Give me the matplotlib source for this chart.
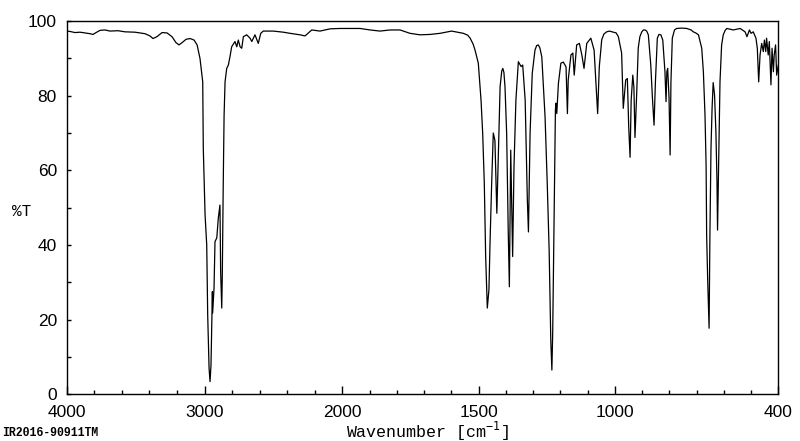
import numpy as np
import matplotlib
matplotlib.use("Agg")
import matplotlib.pyplot as plt
from matplotlib.ticker import FixedLocator, NullFormatter

# Spectrum (wavenumber in cm-1, transmittance in %)
wavenumber = [
    4000, 3976, 3940, 3903, 3867, 3831, 3809, 3787, 3758, 3722, 3686, 3628, 3577, 3504,
    3432, 3396, 3374, 3345, 3308, 3272, 3236, 3207, 3185, 3163, 3134, 3105, 3076, 3054,
    3033, 3013, 3009, 2996, 2984, 2977, 2967, 2960, 2953, 2943, 2941, 2931, 2924, 2911,
    2900, 2888, 2883, 2875, 2871, 2864, 2858, 2851, 2839, 2827, 2815, 2803, 2779, 2766,
    2755, 2742, 2730, 2718, 2694, 2670, 2657, 2634, 2610, 2592, 2573, 2501, 2428, 2380,
    2307, 2271, 2222, 2162, 2089, 2017,
    1935, 1898, 1862, 1825, 1788, 1752, 1715, 1678, 1641, 1599, 1556, 1540, 1531, 1520,
    1513, 1501, 1491, 1485, 1479, 1474, 1468, 1462, 1458, 1452, 1446, 1440, 1433, 1427,
    1421, 1415, 1411, 1407, 1403, 1397, 1391, 1387, 1382, 1375, 1370, 1363, 1354, 1344,
    1338, 1329, 1321, 1317, 1311, 1303, 1293, 1287, 1281, 1275, 1268, 1256, 1248, 1241,
    1235, 1231, 1228, 1222, 1218, 1216, 1213, 1207, 1198, 1189, 1179, 1174, 1171, 1161,
    1154, 1149, 1140, 1130, 1121, 1113, 1103, 1088, 1076, 1069, 1063, 1057, 1048, 1040,
    1030, 1020, 1005, 995, 987, 975, 969, 960, 954, 949, 944, 940, 934, 930,
    926, 920, 914, 908, 901, 895, 889, 883, 877, 868, 862, 856, 851, 844,
    838, 831, 824, 816, 812, 809, 806, 801, 797, 794, 789, 781, 773, 755,
    736, 720, 712, 703, 693, 681, 675, 669, 665, 663, 659, 654, 651, 647,
    643, 639, 634, 629, 625, 623, 618, 614, 608, 602, 595, 589, 565, 540,
    522, 515, 506, 500, 492, 482, 477, 472, 467, 461, 455, 451, 446, 443,
    437, 433, 427, 423, 418, 415, 410, 406, 400,
]
transmittance = [
    97.3, 97.2, 96.9, 97.0, 96.8, 96.6, 96.4, 96.9, 97.5, 97.6, 97.3, 97.4, 97.1, 97.0,
    96.6, 96.0, 95.3, 95.8, 96.9, 96.8, 95.8, 94.2, 93.6, 94.2, 95.1, 95.3, 94.9, 93.6,
    90.0, 83.7, 66.0, 48.0, 40.0, 21.3, 7.0, 3.4, 7.8, 27.5, 21.8, 28.5, 40.9, 41.9,
    47.2, 50.7, 32.8, 23.1, 32.0, 57.0, 74.8, 83.7, 87.3, 88.2, 90.5, 93.1, 94.5, 93.1,
    94.9, 93.1, 92.7, 95.8, 96.3, 95.4, 94.5, 96.3, 94.0, 96.7, 97.3, 97.3, 97.0, 96.7,
    96.3, 96.0, 97.6, 97.3, 97.9, 98.0,
    98.0, 97.6, 97.3, 97.6, 97.6, 96.7, 96.3, 96.4, 96.7, 97.3, 96.7, 96.2, 95.4, 93.8,
    92.2, 88.7, 78.8, 70.0, 56.5, 36.9, 23.1, 28.0, 40.5, 56.5, 70.0, 68.0, 48.5, 65.4,
    82.4, 86.6, 87.3, 86.2, 82.3, 70.0, 43.1, 28.8, 65.4, 36.9, 61.0, 78.8, 89.1, 87.8,
    88.2, 78.8, 52.0, 43.5, 70.0, 86.0, 92.2, 93.4, 93.6, 92.8, 90.4, 74.3, 56.5, 38.6,
    14.5, 6.5, 16.4, 52.0, 76.2, 78.0, 75.2, 83.3, 88.7, 89.0, 87.7, 75.2, 84.2, 90.9,
    91.4, 85.5, 93.6, 94.0, 90.9, 87.3, 94.0, 95.4, 92.2, 83.3, 75.2, 87.7, 95.0, 96.5,
    97.1, 97.3, 97.0, 96.8, 95.8, 91.4, 76.6, 84.2, 84.6, 71.7, 63.5, 78.8, 85.5, 82.3,
    68.8, 80.0, 92.8, 95.8, 97.1, 97.6, 97.6, 97.3, 96.3, 88.2, 79.4, 72.1, 83.7, 95.4,
    96.4, 96.3, 94.9, 86.4, 78.4, 86.4, 87.3, 79.4, 64.1, 83.7, 95.4, 97.6, 98.0, 98.1,
    98.0, 97.6, 97.1, 96.8, 96.3, 92.7, 86.4, 74.8, 61.4, 42.7, 30.2, 17.7, 42.7, 66.0,
    76.7, 83.5, 80.2, 70.3, 57.0, 44.0, 66.0, 83.7, 93.6, 96.3, 97.5, 98.0, 97.6, 98.0,
    97.1, 95.8, 97.6, 96.7, 97.1, 95.4, 92.7, 83.7, 90.9, 94.0, 91.8, 94.9, 91.8, 95.4,
    90.9, 94.5, 82.9, 92.7, 86.4, 90.9, 93.6, 85.5, 88.2,
]

x_major = [4000, 3000, 2000, 1500, 1000, 400]
x_major_labels = ["4000", "3000", "2000", "1500", "1000", "400"]
x_minor = [3800, 3600, 3400, 3200, 2800, 2600, 2400, 2200,
           1900, 1800, 1700, 1600, 1400, 1300, 1200, 1100,
           900, 800, 700, 600, 500]
y_major = [0, 20, 40, 60, 80, 100]
y_minor = [10, 30, 50, 70, 90]

R = 1.977  # scale below 2000 cm-1 is expanded relative to above


def fwd(w):
    w = np.asarray(w, dtype=float)
    return np.where(w >= 2000, w, 2000 - R * (2000 - w))


def inv(u):
    u = np.asarray(u, dtype=float)
    return np.where(u >= 2000, u, 2000 - (2000 - u) / R)


fig = plt.figure(figsize=(8.0, 4.41), dpi=100)
ax = fig.add_axes([66.7 / 800, 1 - 394.3 / 441, (778.3 - 66.7) / 800, (394.3 - 21) / 441])
ax.set_xscale("function", functions=(fwd, inv))
ax.plot(wavenumber, transmittance, color="black", linewidth=0.9)
ax.set_xlim(4000, 400)
ax.set_ylim(0, 100)

ax.xaxis.set_major_locator(FixedLocator(x_major))
ax.xaxis.set_minor_locator(FixedLocator(x_minor))
ax.set_xticklabels(x_major_labels)
ax.xaxis.set_minor_formatter(NullFormatter())
ax.yaxis.set_major_locator(FixedLocator(y_major))
ax.yaxis.set_minor_locator(FixedLocator(y_minor))

tick_font = dict(family=["Liberation Sans", "DejaVu Sans"], size=12.5)
for lab in ax.get_xticklabels() + ax.get_yticklabels():
    lab.set_fontfamily(tick_font["family"])
    lab.set_fontsize(tick_font["size"])

ax.tick_params(axis="x", which="major", direction="in", length=5.5, width=1, pad=7.5, top=False)
ax.tick_params(axis="x", which="minor", direction="in", length=2.8, width=1, top=False)
ax.tick_params(axis="y", which="both", direction="in", length=3, width=1, pad=7, right=False)

for sp in ax.spines.values():
    sp.set_linewidth(1.0)
    sp.set_color("black")

mono = ["Liberation Mono", "DejaVu Sans Mono"]
fig.text(22 / 800, 1 - 211 / 441, "%T", family=mono, fontsize=11.5, ha="center", va="center")
fig.text(428 / 800, 1 - 431 / 441, r"Wavenumber [cm$^{\mathtt{-1}}$]", family=mono,
         fontsize=12, ha="center", va="center")
fig.text(2 / 800, 1 - 433 / 441, "IR2016-90911TM", family=mono, fontsize=8.3,
         fontweight="bold", ha="left", va="center")

fig.savefig("out.png", dpi=100)
